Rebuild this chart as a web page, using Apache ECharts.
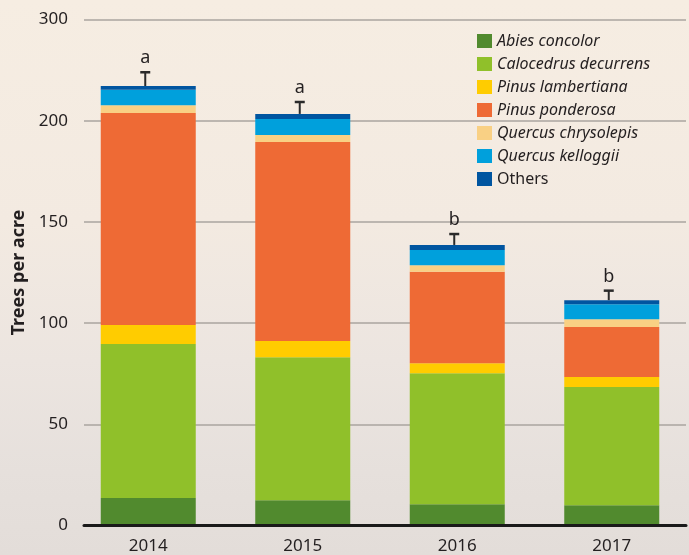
<!DOCTYPE html>
<html>
<head>
<meta charset="utf-8">
<script src="https://cdn.jsdelivr.net/npm/echarts@6/dist/echarts.min.js"></script>
<style>
  html, body { margin: 0; padding: 0; }
  body {
    width: 689px; height: 555px;
    background: linear-gradient(to bottom, #f6ede2 0%, #f3eae1 40%, #ece5e0 65%, #e6e0dc 85%, #e3ddd9 100%);
  }
  #chart { width: 689px; height: 555px; }
</style>
</head>
<body>
<div id="chart"></div>
<script>
// values (trees per acre)
const years = ['2014', '2015', '2016', '2017'];
const abies = [13.3, 12.3, 10.3, 9.8];
const calocedrus = [76.2, 70.7, 64.8, 58.5];
const lambertiana = [9.4, 8.0, 4.9, 4.9];
const ponderosa = [104.9, 98.4, 45.2, 24.7];
const chrysolepis = [3.8, 3.5, 3.3, 3.8];
const kelloggii = [7.6, 7.9, 7.5, 7.5];
const others = [1.9, 2.5, 2.5, 2.0];
const errors = [6.8, 5.9, 5.4, 4.7];
const letters = ['a', 'a', 'b', 'b'];
// the original figure labels its top gridline "300"
const yTickLabels = ['0', '50', '100', '150', '200', '300'];

const species = [
  { name: 'Abies concolor', data: abies, color: '#518a2e' },
  { name: 'Calocedrus decurrens', data: calocedrus, color: '#90c02a' },
  { name: 'Pinus lambertiana', data: lambertiana, color: '#ffcc00' },
  { name: 'Pinus ponderosa', data: ponderosa, color: '#ee6a35' },
  { name: 'Quercus chrysolepis', data: chrysolepis, color: '#f9d084' },
  { name: 'Quercus kelloggii', data: kelloggii, color: '#00a0dc' },
  { name: 'Others', data: others, color: '#0055a0' }
];

const totals = years.map((y, i) => species.reduce((s, sp) => s + sp.data[i], 0));
const errData = years.map((y, i) => [i, totals[i], totals[i] + errors[i], letters[i]]);

const font = '"Noto Sans", "Open Sans", sans-serif';
const chart = echarts.init(document.getElementById('chart'));

const series = species.map(sp => ({
  name: sp.name,
  type: 'bar',
  stack: 'trees',
  xAxisIndex: 1,
  yAxisIndex: 1,
  barWidth: 95,
  itemStyle: { color: sp.color },
  emphasis: { disabled: true },
  data: sp.data
}));

series.push({
  type: 'custom',
  xAxisIndex: 1,
  yAxisIndex: 1,
  z: 5,
  silent: true,
  data: errData,
  renderItem: function (params, api) {
    const base = api.coord([api.value(0), api.value(1)]);
    const top = api.coord([api.value(0), api.value(2)]);
    const x = base[0] - 3;
    return {
      type: 'group',
      children: [
        { type: 'line', shape: { x1: x, y1: base[1], x2: x, y2: top[1] },
          style: { stroke: '#2a2a2a', lineWidth: 2 } },
        { type: 'line', shape: { x1: x - 5, y1: top[1], x2: x + 5, y2: top[1] },
          style: { stroke: '#2a2a2a', lineWidth: 2.5 } },
        { type: 'text', x: x, y: top[1] - 5,
          style: { text: letters[params.dataIndex], fill: '#231f20', fontSize: 18,
                   fontFamily: font, align: 'center', verticalAlign: 'bottom' } }
      ]
    };
  }
});

chart.setOption({
  backgroundColor: 'transparent',
  animation: false,
  textStyle: { fontFamily: font },
  legend: {
    orient: 'vertical',
    left: 472,
    top: 28,
    itemWidth: 15,
    itemHeight: 14,
    itemGap: 7,
    icon: 'rect',
    data: species.map(sp => sp.name),
    formatter: name => name === 'Others' ? '{n|' + name + '}' : '{i|' + name + '}',
    textStyle: {
      rich: {
        i: { fontStyle: 'italic', fontSize: 16, lineHeight: 16, color: '#231f20', fontFamily: font },
        n: { fontSize: 16, lineHeight: 16, color: '#231f20', fontFamily: font }
      }
    }
  },
  grid: [
    { left: 84, right: 3, top: 19.5, bottom: 29.5 },
    { left: 71, width: 627, top: 19.5, bottom: 29.5 }
  ],
  xAxis: [
    {
      gridIndex: 0, type: 'value', min: 0, max: 1, z: 6,
      axisLine: { show: true, lineStyle: { color: '#1a1a1a', width: 3 } },
      axisTick: { show: false }, axisLabel: { show: false }, splitLine: { show: false }
    },
    {
      gridIndex: 1, type: 'category', data: years,
      axisLine: { show: false }, axisTick: { show: false },
      axisLabel: { color: '#231f20', fontSize: 17, margin: 13 }
    }
  ],
  yAxis: [
    {
      gridIndex: 0, type: 'value', min: 0, max: 250, interval: 50,
      name: 'Trees per acre', nameLocation: 'middle', nameGap: 54,
      nameTextStyle: { fontSize: 18, fontWeight: 'bold', color: '#231f20' },
      axisLine: { show: false }, axisTick: { show: false },
      axisLabel: {
        color: '#231f20', fontSize: 17, margin: 16,
        formatter: v => yTickLabels[Math.round(v / 50)]
      },
      splitLine: { lineStyle: { color: '#aaa49f', width: 1.5 } }
    },
    {
      gridIndex: 1, type: 'value', min: 0, max: 250, show: false
    }
  ],
  series: series
});
</script>
</body>
</html>
